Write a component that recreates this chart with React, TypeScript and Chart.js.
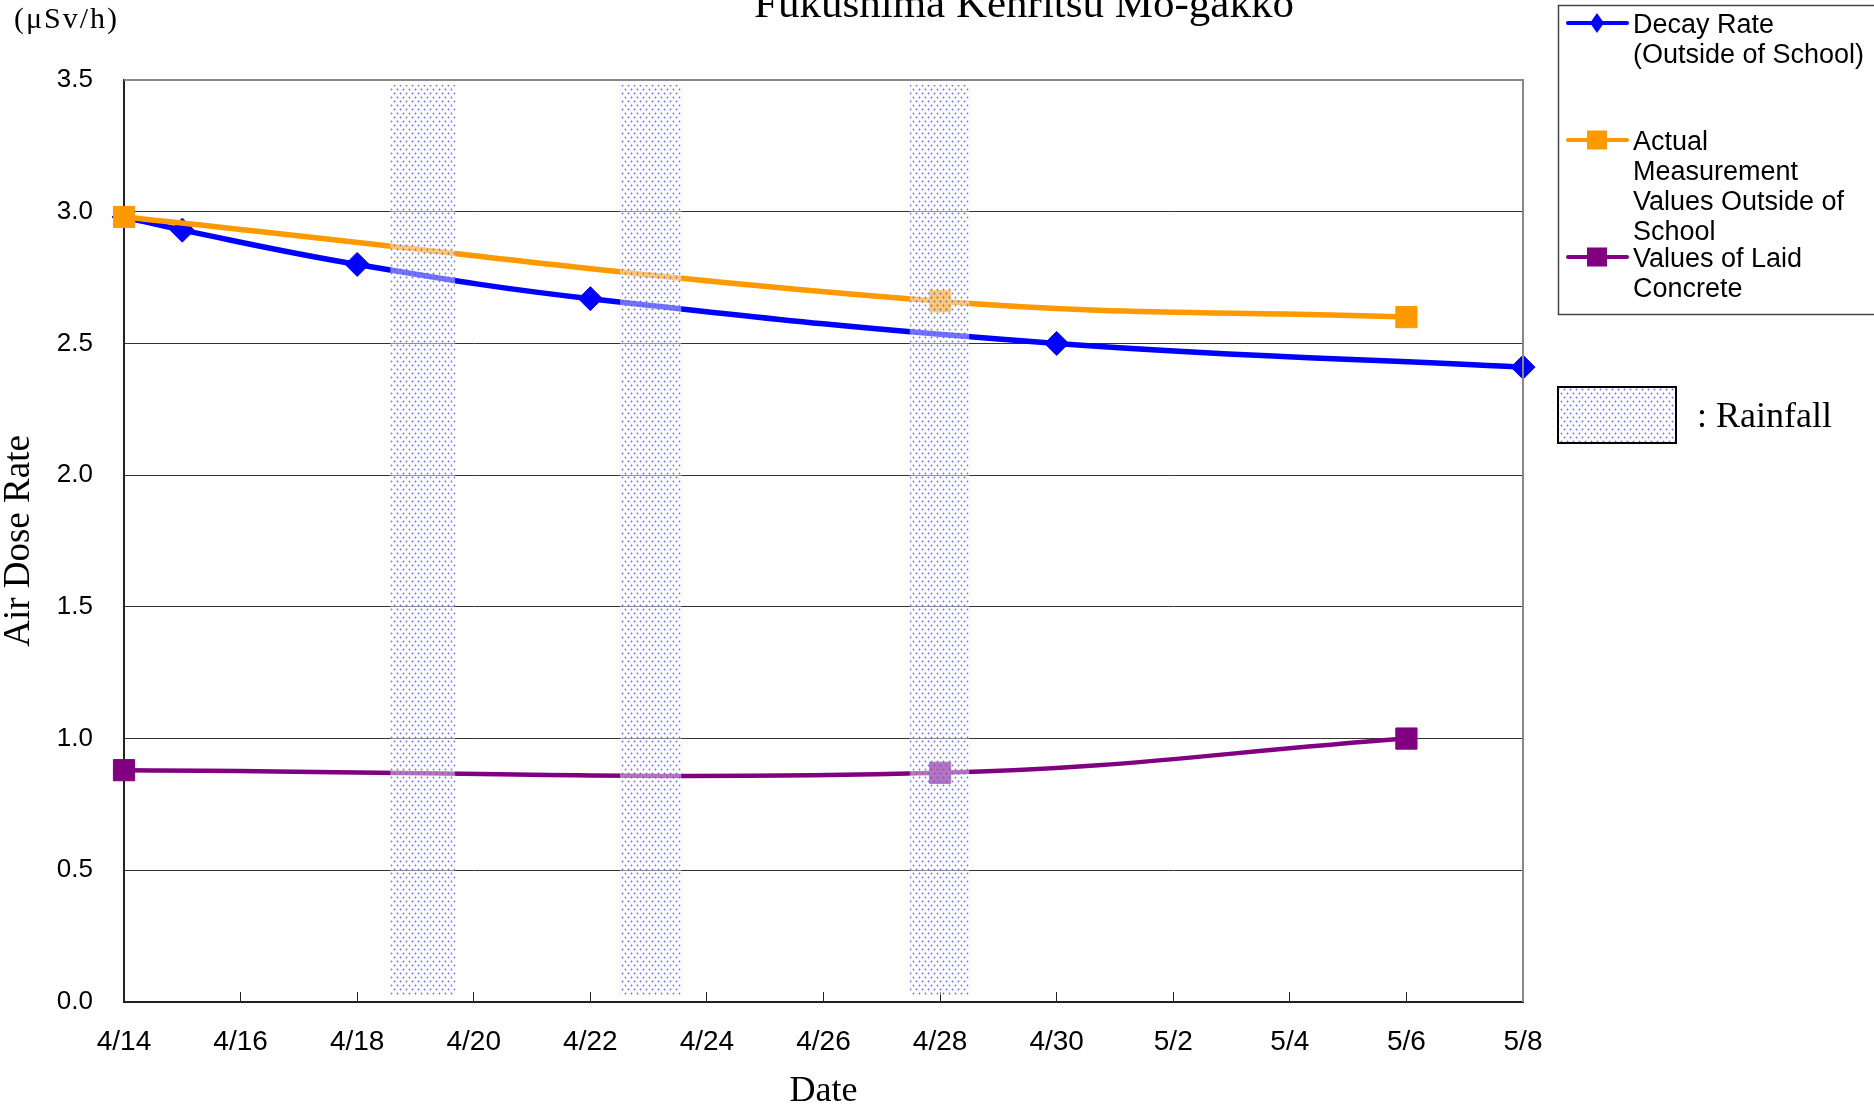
import React, { useEffect, useRef } from 'react';
import { Chart, registerables } from 'chart.js';

Chart.register(...registerables);

// ---- data ----
const tickLabels = ['4/14', '4/16', '4/18', '4/20', '4/22', '4/24', '4/26', '4/28', '4/30', '5/2', '5/4', '5/6', '5/8'];

const decayDates = ['4/14', '4/15', '4/18', '4/22', '4/30', '5/8'];
const decayValues = [2.98, 2.93, 2.80, 2.67, 2.50, 2.41];

const actualDates = ['4/14', '4/28', '5/6'];
const actualValues = [2.98, 2.66, 2.60];

const concreteDates = ['4/14', '4/28', '5/6'];
const concreteValues = [0.88, 0.87, 1.00];

// rainfall periods, in days after 4/14
const rainfallStart = [4.57, 8.51, 13.48];
const rainfallEnd = [5.68, 9.56, 14.5];

const seriesNames = [
  'Decay Rate\n(Outside of School)',
  'Actual\nMeasurement\nValues Outside of\nSchool',
  'Values of Laid\nConcrete',
];
const seriesColors = ['#0000FF', '#FF9900', '#800080'];

const titleText = 'Fukushima Kenritsu Mo-gakko';
const unitText = '(μSv/h)';
const rainfallText = ': Rainfall';
const xTitle = 'Date';
const yTitle = 'Air Dose Rate';

function dayOf(label: string): number {
  const [m, d] = label.split('/').map(Number);
  return (m === 4 ? d : 30 + d) - 14;
}

function makePattern(ctx: CanvasRenderingContext2D): CanvasPattern | string {
  const c = document.createElement('canvas');
  c.width = 6;
  c.height = 8;
  const g = c.getContext('2d');
  if (!g) return 'rgba(150,150,255,0.3)';
  g.fillStyle = 'rgba(255,255,255,0.45)';
  g.fillRect(0, 0, 6, 8);
  g.fillStyle = 'rgba(80,80,255,0.85)';
  g.beginPath();
  g.arc(1.5, 1.5, 0.9, 0, Math.PI * 2);
  g.fill();
  g.beginPath();
  g.arc(4.5, 5.5, 0.9, 0, Math.PI * 2);
  g.fill();
  return ctx.createPattern(c, 'repeat') || 'rgba(150,150,255,0.3)';
}

const SANS = "'Liberation Sans', Arial, sans-serif";
const SERIF = "'Liberation Serif', 'Times New Roman', serif";

export default function App() {
  const canvasRef = useRef<HTMLCanvasElement | null>(null);

  useEffect(() => {
    const canvas = canvasRef.current;
    if (!canvas) return;
    const ctx0 = canvas.getContext('2d');
    if (!ctx0) return;
    const pattern = makePattern(ctx0);

    const decorPlugin = {
      id: 'decor',
      afterDatasetsDraw(chart: any) {
        const { ctx, chartArea, scales } = chart;
        const x = scales.x;
        ctx.save();
        ctx.fillStyle = pattern;
        for (let i = 0; i < rainfallStart.length; i++) {
          const x1 = x.getPixelForValue(rainfallStart[i]);
          const x2 = x.getPixelForValue(rainfallEnd[i]);
          const top = chartArea.top + 5;
          const bottom = chartArea.bottom - 7;
          ctx.fillRect(x1, top, x2 - x1, bottom - top);
        }
        ctx.restore();
      },
      afterDraw(chart: any) {
        const { ctx, chartArea } = chart;
        ctx.save();
        // top & right border
        ctx.strokeStyle = '#888';
        ctx.lineWidth = 2;
        ctx.beginPath();
        ctx.moveTo(chartArea.left, chartArea.top);
        ctx.lineTo(chartArea.right, chartArea.top);
        ctx.lineTo(chartArea.right, chartArea.bottom);
        ctx.stroke();

        // title
        ctx.fillStyle = '#000';
        ctx.textBaseline = 'alphabetic';
        ctx.font = `43px ${SERIF}`;
        ctx.textAlign = 'center';
        ctx.fillText(titleText, 1024, 17);

        // unit
        ctx.font = `30px ${SERIF}`;
        ctx.textAlign = 'left';
        (ctx as any).letterSpacing = '2px';
        ctx.fillText(unitText, 14, 28);
        (ctx as any).letterSpacing = '0px';

        // legend box
        ctx.strokeStyle = '#444';
        ctx.lineWidth = 1.5;
        ctx.strokeRect(1558.5, 5.5, 400, 309);

        chart.data.datasets.forEach((ds: any, i: number) => {
          const my = 23 + i * 117;
          ctx.strokeStyle = ds.borderColor;
          ctx.lineWidth = 4;
          ctx.lineCap = 'round';
          ctx.beginPath();
          ctx.moveTo(1568, my);
          ctx.lineTo(1627, my);
          ctx.stroke();
          ctx.fillStyle = ds.borderColor;
          const mx = 1597;
          if (ds.pointStyle === 'rectRot') {
            ctx.beginPath();
            ctx.moveTo(mx - 7, my);
            ctx.lineTo(mx, my - 10);
            ctx.lineTo(mx + 7, my);
            ctx.lineTo(mx, my + 10);
            ctx.closePath();
            ctx.fill();
          } else {
            ctx.fillRect(mx - 10, my - 9.5, 20, 19);
          }
          ctx.fillStyle = '#000';
          ctx.font = `27px ${SANS}`;
          ctx.textAlign = 'left';
          const lines = String(ds.label).split('\n');
          lines.forEach((ln: string, k: number) => {
            ctx.fillText(ln, 1633, my + 10 + k * 30);
          });
        });

        // rainfall legend
        ctx.fillStyle = '#fff';
        ctx.fillRect(1558, 387, 118, 56);
        ctx.fillStyle = pattern;
        ctx.fillRect(1558, 387, 118, 56);
        ctx.strokeStyle = '#000';
        ctx.lineWidth = 2;
        ctx.strokeRect(1558, 387, 118, 56);
        ctx.fillStyle = '#000';
        ctx.font = `36px ${SERIF}`;
        ctx.textAlign = 'left';
        ctx.fillText(rainfallText, 1697, 427);
        ctx.restore();
      },
    };

    const mk = (dates: string[], vals: number[]) => dates.map((d, i) => ({ x: dayOf(d), y: vals[i] }));

    const chart = new Chart(canvas, {
      type: 'line',
      data: {
        datasets: [
          {
            label: seriesNames[0],
            data: mk(decayDates, decayValues),
            borderColor: seriesColors[0],
            backgroundColor: seriesColors[0],
            borderWidth: 5.5,
            pointStyle: 'rectRot',
            pointRadius: 12,
            pointBorderWidth: 1,
            tension: 0.4,
            clip: false,
            order: 1,
          },
          {
            label: seriesNames[1],
            data: mk(actualDates, actualValues),
            borderColor: seriesColors[1],
            backgroundColor: seriesColors[1],
            borderWidth: 5.5,
            pointStyle: 'rect',
            pointRadius: 15,
            pointBorderWidth: 1,
            tension: 0.4,
            clip: false,
            order: 0,
          },
          {
            label: seriesNames[2],
            data: mk(concreteDates, concreteValues),
            borderColor: seriesColors[2],
            backgroundColor: seriesColors[2],
            borderWidth: 4.5,
            pointStyle: 'rect',
            pointRadius: 15,
            pointBorderWidth: 1,
            tension: 0.4,
            clip: false,
            order: 2,
          },
        ],
      },
      options: {
        animation: false,
        responsive: false,
        devicePixelRatio: 1,
        layout: { padding: { top: 80, right: 351, left: 0, bottom: 0 } },
        plugins: {
          legend: { display: false },
          title: { display: false },
          tooltip: { enabled: false },
        },
        scales: {
          x: {
            type: 'linear',
            min: 0,
            max: 24,
            afterFit(scale: any) {
              scale.height = 111;
            },
            ticks: {
              stepSize: 2,
              autoSkip: false,
              maxRotation: 0,
              padding: 33,
              color: '#000',
              font: { family: SANS, size: 28 },
              callback: (v: any) => tickLabels[Math.round(Number(v) / 2)] ?? '',
            },
            grid: {
              display: true,
              drawOnChartArea: false,
              drawTicks: true,
              tickLength: -10,
              color: '#222',
              lineWidth: 1,
            },
            border: { display: true, color: '#222', width: 2 },
            title: {
              display: true,
              text: xTitle,
              color: '#000',
              font: { family: SERIF, size: 36 },
              padding: { top: 0, bottom: 0 },
            },
          },
          y: {
            min: 0,
            max: 3.5,
            afterFit(scale: any) {
              scale.width = 124;
            },
            ticks: {
              stepSize: 0.5,
              padding: 31,
              color: '#000',
              font: { family: SANS, size: 26 },
              callback: (v: any) => Number(v).toFixed(1),
            },
            grid: {
              drawTicks: false,
              color: (c: any) => (c.tick && (c.tick.value === 3.5 || c.tick.value === 0) ? 'rgba(0,0,0,0)' : '#333'),
              lineWidth: 1,
            },
            border: { display: true, color: '#222', width: 2 },
            title: {
              display: true,
              text: yTitle,
              color: '#000',
              font: { family: SERIF, size: 37, lineHeight: 1.05 },
              padding: { top: 0, bottom: 0 },
            },
          },
        },
      },
      plugins: [decorPlugin],
    } as any);

    return () => {
      chart.destroy();
    };
  }, []);

  return (
    <div style={{ position: 'fixed', left: 0, top: 0, width: 1874, height: 1113, background: '#fff' }}>
      <canvas ref={canvasRef} width={1874} height={1113} style={{ display: 'block', width: 1874, height: 1113 }} />
    </div>
  );
}
